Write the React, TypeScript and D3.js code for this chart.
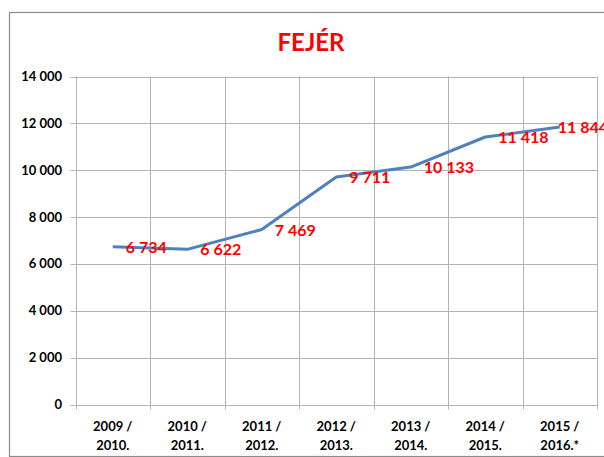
import React, { useEffect, useRef } from 'react';
import * as d3 from 'd3';

const categories = ['2009 /|2010.', '2010 /|2011.', '2011 /|2012.', '2012 /|2013.', '2013 /|2014.', '2014 /|2015.', '2015 /|2016.*'];
const values = [6734, 6622, 7469, 9711, 10133, 11418, 11844];
const yTicks = [0, 2000, 4000, 6000, 8000, 10000, 12000, 14000];
const title = 'FEJÉR';

const fmt = (v: number) => d3.format(',')(v).replace(/,/g, ' ');

export default function App() {
  const svgRef = useRef<SVGSVGElement | null>(null);

  useEffect(() => {
    if (!svgRef.current) return;
    const svg = d3.select(svgRef.current);
    svg.selectAll('*').remove();

    const left = 75.5, right = 597, top = 76.5, bottom = 404.5;
    const font = 'Lato, Carlito, Calibri, sans-serif';

    // outer chart border
    svg.append('rect')
      .attr('x', 9.5).attr('y', 12.5)
      .attr('width', 700).attr('height', 444)
      .attr('fill', '#fff')
      .attr('stroke', '#8c8c8c')
      .attr('stroke-width', 1.2);

    svg.append('text')
      .attr('x', 311).attr('y', 51)
      .attr('text-anchor', 'middle')
      .attr('font-family', font)
      .attr('font-weight', 'bold')
      .attr('font-size', 24)
      .attr('fill', '#ff0000')
      .text(title);

    const x = d3.scaleBand().domain(categories).range([left, right]);
    const y = d3.scaleLinear().domain([0, 14000]).range([bottom, top]);

    const g = svg.append('g');

    // horizontal grid + y ticks
    g.selectAll('line.h').data(yTicks).enter().append('line')
      .attr('x1', left - 5).attr('x2', right)
      .attr('y1', d => Math.round(y(d)) + 0.5).attr('y2', d => Math.round(y(d)) + 0.5)
      .attr('stroke', '#b4b4b4').attr('stroke-width', 1);

    // vertical grid at category boundaries
    const bounds = categories.map(c => x(c) as number).concat([right]);
    g.selectAll('line.v').data(bounds).enter().append('line')
      .attr('x1', d => Math.round(d) + 0.5).attr('x2', d => Math.round(d) + 0.5)
      .attr('y1', top).attr('y2', bottom + 5)
      .attr('stroke', '#b4b4b4').attr('stroke-width', 1);

    g.selectAll('text.yl').data(yTicks).enter().append('text')
      .attr('x', 62).attr('y', d => y(d) + 4.5)
      .attr('text-anchor', 'end')
      .attr('font-family', font).attr('font-weight', 'bold').attr('font-size', 13)
      .attr('fill', '#000')
      .text(d => fmt(d));

    categories.forEach(c => {
      const [l1, l2] = c.split('|');
      const cx = (x(c) as number) + x.bandwidth() / 2;
      const t = g.append('text')
        .attr('text-anchor', 'middle')
        .attr('font-family', font).attr('font-weight', 'bold').attr('font-size', 13)
        .attr('fill', '#000');
      t.append('tspan').attr('x', cx).attr('y', 431).text(l1);
      t.append('tspan').attr('x', cx).attr('y', 450).text(l2);
    });

    const line = d3.line<number>()
      .x((_, i) => (x(categories[i]) as number) + x.bandwidth() / 2)
      .y(d => y(d));

    g.append('path')
      .datum(values)
      .attr('fill', 'none')
      .attr('stroke', '#4f81bd')
      .attr('stroke-width', 3)
      .attr('stroke-linejoin', 'round')
      .attr('d', line);

    // data labels to the right; the last one is pulled back onto its point
    g.selectAll('text.dl').data(values).enter().append('text')
      .attr('x', (_, i) => (x(categories[i]) as number) + x.bandwidth() / 2 + (i === values.length - 1 ? -2 : 13))
      .attr('y', d => y(d) + 6)
      .attr('font-family', font).attr('font-weight', 'bold').attr('font-size', 16)
      .attr('fill', '#ff0000')
      .text(d => fmt(d));
  }, []);

  return (
    <div style={{ position: 'absolute', left: 0, top: 0 }}>
      <svg ref={svgRef} width={604} height={457} style={{ display: 'block' }} />
    </div>
  );
}
